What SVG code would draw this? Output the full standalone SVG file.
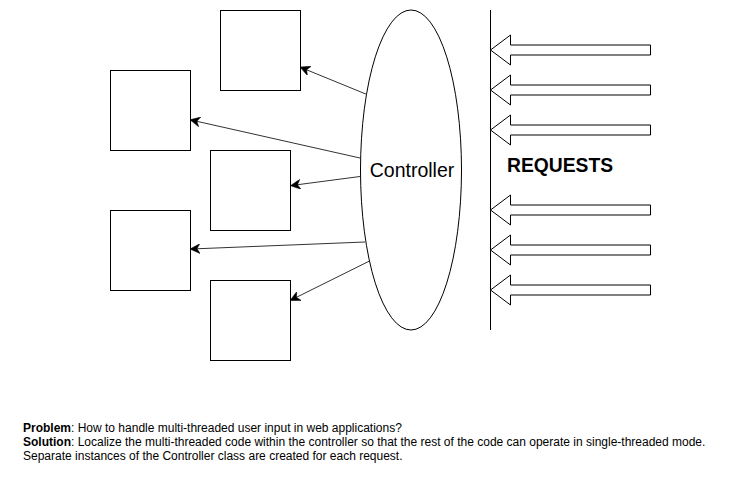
<svg xmlns="http://www.w3.org/2000/svg" width="731" height="481" viewBox="0 0 731 481">
<style>
.box{fill:#fff;stroke:#000;stroke-width:1}
.conn{stroke:#333;stroke-width:1;fill:none}
.barrow{fill:#fff;stroke:#000;stroke-width:1}
text{font-family:"Liberation Sans",Arial,sans-serif;fill:#000}
.note{font-size:12px}
</style>
<defs>
<marker id="ah" viewBox="0 0 10 10" refX="9" refY="5" markerWidth="10" markerHeight="10" markerUnits="userSpaceOnUse" orient="auto">
<path d="M0,0 L10,5 L0,10 L3,5 Z" fill="#000" stroke="#000" stroke-width="0.5"/>
</marker>
</defs>
<rect width="731" height="481" fill="#fff"/>
<g id="box-a"><rect class="box" x="220.5" y="10.5" width="80" height="80"/></g>
<g id="box-b"><rect class="box" x="110.5" y="70.5" width="80" height="80"/></g>
<g id="box-c"><rect class="box" x="210.5" y="150.5" width="80" height="80"/></g>
<g id="box-d"><rect class="box" x="110.5" y="210.5" width="80" height="80"/></g>
<g id="box-e"><rect class="box" x="210.5" y="280.5" width="80" height="80"/></g>
<g id="controller">
<ellipse class="box" cx="411" cy="170" rx="50.5" ry="160"/>
<text x="412" y="177" font-size="19.5" text-anchor="middle">Controller</text>
</g>
<g id="connectors">
<line class="conn" x1="367" y1="94.5" x2="301" y2="67.5" marker-end="url(#ah)"/>
<line class="conn" x1="360" y1="158" x2="191" y2="120" marker-end="url(#ah)"/>
<line class="conn" x1="360" y1="176.5" x2="291.5" y2="185.5" marker-end="url(#ah)"/>
<line class="conn" x1="365" y1="242" x2="191" y2="249" marker-end="url(#ah)"/>
<line class="conn" x1="369.5" y1="261" x2="291" y2="300" marker-end="url(#ah)"/>
</g>
<g id="requests">
<line x1="490.5" y1="10" x2="490.5" y2="330" stroke="#000" stroke-width="1"/>
<path class="barrow" d="M490.5,50 L510.5,35 L510.5,45 L650.5,45 L650.5,55 L510.5,55 L510.5,65 Z"/>
<path class="barrow" d="M490.5,90 L510.5,75 L510.5,85 L650.5,85 L650.5,95 L510.5,95 L510.5,105 Z"/>
<path class="barrow" d="M490.5,130 L510.5,115 L510.5,125 L650.5,125 L650.5,135 L510.5,135 L510.5,145 Z"/>
<path class="barrow" d="M490.5,210 L510.5,195 L510.5,205 L650.5,205 L650.5,215 L510.5,215 L510.5,225 Z"/>
<path class="barrow" d="M490.5,250 L510.5,235 L510.5,245 L650.5,245 L650.5,255 L510.5,255 L510.5,265 Z"/>
<path class="barrow" d="M490.5,290 L510.5,275 L510.5,285 L650.5,285 L650.5,295 L510.5,295 L510.5,305 Z"/>
<text x="507" y="172" font-size="19.3" font-weight="bold">REQUESTS</text>
</g>
<g id="note">
<text class="note" x="23" y="432"><tspan font-weight="bold">Problem</tspan>: How to handle multi-threaded user input in web applications?</text>
<text class="note" x="23" y="446"><tspan font-weight="bold">Solution</tspan>: Localize the multi-threaded code within the controller so that the rest of the code can operate in single-threaded mode.</text>
<text class="note" x="23" y="460">Separate instances of the Controller class are created for each request.</text>
</g>
</svg>
